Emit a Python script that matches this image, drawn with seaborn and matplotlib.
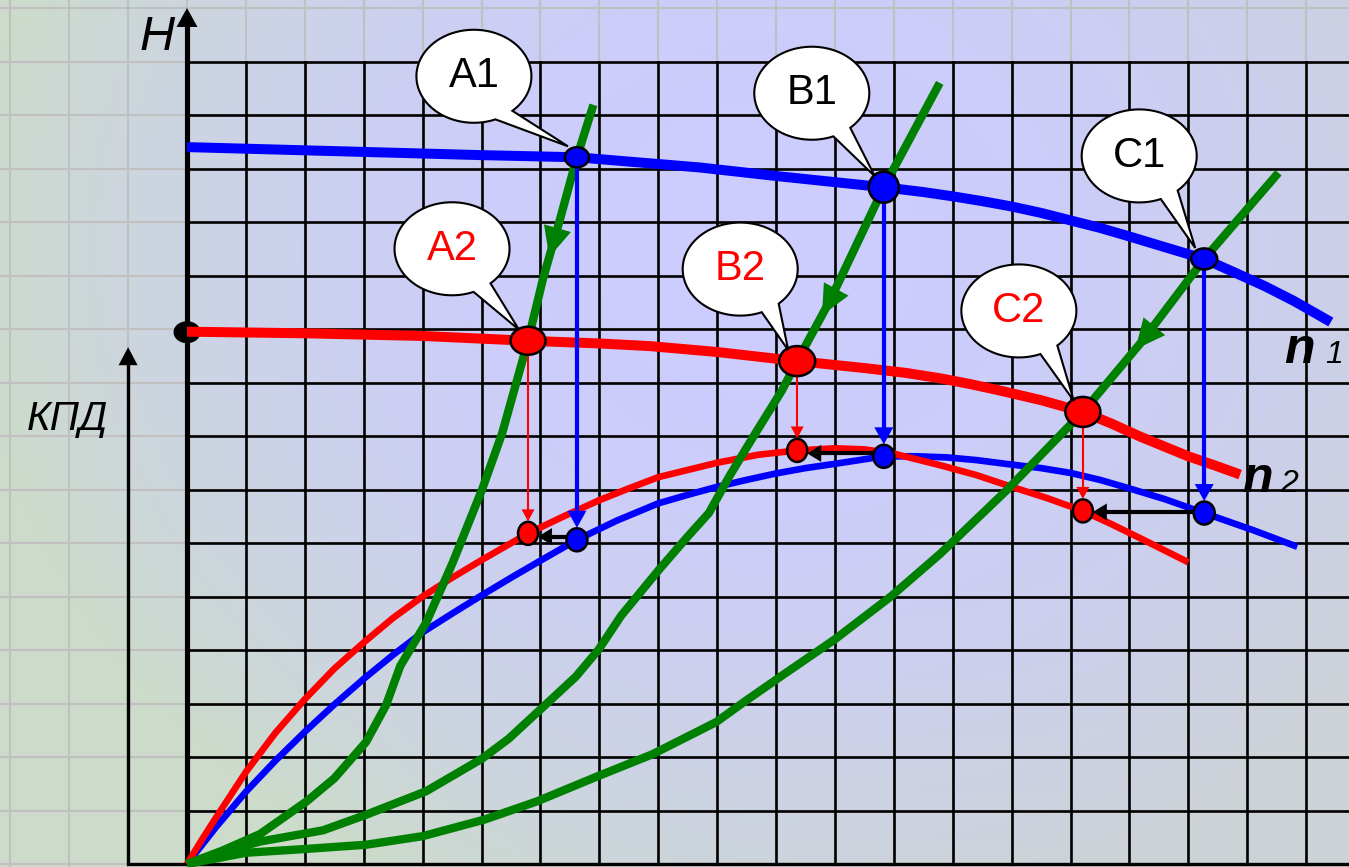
import numpy as np
import pandas as pd
import matplotlib
matplotlib.use('Agg')
import matplotlib.pyplot as plt
import seaborn as sns
from matplotlib.patches import Ellipse, Polygon

# one grid cell = one unit on both axes
# head curves H(Q) for speeds n1 (blue) and n2 (red)
h1_x = [0, 1, 2, 3, 4, 5, 6.62, 7.6, 8.7, 10, 11.83, 12.5, 13, 13.5, 14, 14.5, 15, 15.5, 16, 16.6,
        17.27, 17.8, 18.3, 18.8, 19.42]
h1_y = [13.40, 13.37, 13.34, 13.31, 13.28, 13.25, 13.21, 13.12, 13.02, 12.86, 12.65, 12.56, 12.48, 12.39,
        12.29, 12.17, 12.03, 11.89, 11.73, 11.53, 11.31, 11.05, 10.8, 10.52, 10.13]
h2_x = [0, 2, 4, 5.79, 7, 7.86, 9, 10.36, 11.5, 12.2, 12.78, 13.3, 13.8, 14.5, 15.21, 15.7, 16.18, 16.6,
        17.0, 17.45, 17.88]
h2_y = [9.95, 9.92, 9.87, 9.78, 9.73, 9.68, 9.57, 9.40, 9.27, 9.18, 9.08, 8.97, 8.85, 8.67, 8.45, 8.23,
        7.99, 7.8, 7.62, 7.45, 7.28]

# efficiency curves (KPD) for n1 (blue) and n2 (red)
eta1_x = [0, 0.5, 1, 1.5, 2, 2.5, 3, 3.5, 4, 4.5, 5, 5.5, 6, 6.62, 7.3, 8, 8.5, 9, 9.5, 10, 10.5, 11,
          11.83, 12.4, 12.9, 13.4, 13.9, 14.5, 15, 15.5, 16, 16.6, 17.27, 18.1, 18.85]
eta1_y = [0, 0.7, 1.35, 1.93, 2.47, 2.98, 3.46, 3.91, 4.33, 4.68, 5.02, 5.35, 5.67, 6.06, 6.42, 6.74, 6.9,
          7.05, 7.18, 7.30, 7.40, 7.48, 7.62, 7.62, 7.6, 7.55, 7.48, 7.4, 7.31, 7.18, 7.02, 6.82, 6.56,
          6.24, 5.93]
eta2_x = [0, 0.25, 0.5, 0.75, 1, 1.5, 2, 2.5, 3, 3.5, 4, 4.5, 5, 5.79, 6.4, 7, 7.5, 8, 9, 9.7, 10.36, 11,
          11.5, 12, 12.8, 13.4, 14, 14.6, 15.21, 15.7, 16.2, 16.6, 17.0]
eta2_y = [0, 0.45, 0.88, 1.3, 1.72, 2.45, 3.08, 3.65, 4.14, 4.6, 5.0, 5.35, 5.68, 6.18, 6.5, 6.8, 7.02, 7.23,
          7.5, 7.65, 7.73, 7.77, 7.75, 7.67, 7.45, 7.27, 7.05, 6.84, 6.6, 6.35, 6.08, 5.86, 5.64]

# system curves (green)
sys1_x = [0, 0.6, 1.24, 2.03, 2.5, 3.04, 3.38, 3.62, 4.06, 4.51, 5.01, 5.35, 5.79, 6.04, 6.33, 6.62, 6.9]
sys1_y = [0, 0.25, 0.56, 1.17, 1.6, 2.28, 2.97, 3.7, 4.51, 5.63, 7.0, 8.05, 9.78, 10.92, 12.04, 13.21, 14.19]
sys2_x = [0, 0.6, 1.24, 2.31, 3.04, 4.06, 5.01, 5.46, 6.08, 6.6, 6.99, 7.37, 8.02, 8.5, 8.86, 9.21, 9.61,
          10.1, 10.36, 10.92, 11.83, 12.78]
sys2_y = [0, 0.22, 0.42, 0.63, 0.92, 1.36, 1.97, 2.34, 2.97, 3.5, 4.01, 4.64, 5.51, 6.12, 6.56, 7.25, 7.98,
          8.85, 9.40, 10.54, 12.65, 14.6]
sys3_x = [0, 1, 2, 3.04, 4, 5.05, 5.94, 6.95, 7.9, 8.98, 9.46, 10.1, 11, 11.95, 12.79, 13.92, 15.21, 16.2,
          17.27, 18.53]
sys3_y = [0, 0.21, 0.28, 0.36, 0.52, 0.83, 1.17, 1.63, 2.05, 2.65, 3.03, 3.52, 4.2, 5.0, 5.8, 6.99, 8.45, 9.75,
          11.31, 12.92]
sys_arrow_x = [6.15, 10.78, 16.1]

# operating points
pts1_x = [6.62, 11.83, 17.27]
pts2_x = [5.79, 10.36, 15.21]
labels1 = ['A1', 'B1', 'C1']
labels2 = ['A2', 'B2', 'C2']

SX, SY = 58.9, 53.5  # pixels per grid cell

plt.rcParams['font.family'] = ['Liberation Sans', 'DejaVu Sans']
fig = plt.figure(figsize=(13.49, 8.67), dpi=100)
ax = fig.add_axes([0, 0, 1, 1])
X0, X1 = -187 / SX, (1349 - 187) / SX
Y0, Y1 = -3 / SY, 864 / SY

# background gradient: lavender centre, greenish left, greyish right/bottom
W, H = 1349, 867
xx, yy = np.meshgrid(np.arange(W), np.arange(H))
t = np.clip(((xx - 750) / 780) ** 2 + ((yy - 250) / 700) ** 2, 0, 1)
c_in = np.array([204, 204, 255]) / 255
green = np.array([205, 219, 203]) / 255
grey = np.array([204, 211, 214]) / 255
mix = np.clip((xx - 350) / 800, 0, 1)[..., None]
c_out = green + mix * (grey - green)
img = c_in + t[..., None] * (c_out - c_in)
ax.imshow(img, extent=(X0, X1, Y0, Y1), origin='upper', aspect='auto', zorder=0)

# grids
for gx in range(-3, 20):
    ax.plot([gx, gx], [Y0, Y1], color='#c0c0c0', lw=1.5, zorder=1)
for gy in range(0, 17):
    ax.plot([X0, X1], [gy, gy], color='#c0c0c0', lw=1.5, zorder=1)
for gx in range(0, 20):
    ax.plot([gx, gx], [0, 15], color='black', lw=1.9, zorder=2)
for gy in range(0, 16):
    ax.plot([0, X1], [gy, gy], color='black', lw=1.9, zorder=2)
ax.plot([-1, X1], [0, 0], color='black', lw=2.4, zorder=2)


def arrow(x0, y0, x1, y1, color, lw, hl, hw, z, shrink=0, shaft=True):
    p0 = np.array([x0 * SX, y0 * SY])
    p1 = np.array([x1 * SX, y1 * SY])
    d = (p1 - p0) / np.hypot(*(p1 - p0))
    tip = p1 - d * shrink
    base = tip - d * hl
    n = np.array([-d[1], d[0]])
    if shaft:
        end = base + d * 2
        ax.plot([p0[0] / SX, end[0] / SX], [p0[1] / SY, end[1] / SY], color=color, lw=lw,
                solid_capstyle='butt', zorder=z)
    head = np.array([tip, base + n * hw / 2, base - n * hw / 2])
    ax.add_patch(Polygon(head / [SX, SY], closed=True, fc=color, ec='none', zorder=z))


# axes arrows
arrow(0, 0, 0, 16.0, 'black', 3.7, 19, 21, 3)
arrow(-1, 0, -1, 9.66, 'black', 2.4, 18, 19, 3)
ax.add_patch(Ellipse((0, 9.94), 27 / SX, 22 / SY, fc='black', ec='none', zorder=4))

line_kw = dict(sort=False, estimator=None, ax=ax, solid_capstyle='butt', solid_joinstyle='round')
# efficiency curves
sns.lineplot(x=eta1_x, y=eta1_y, color='#0000ff', lw=4.8, zorder=4, **line_kw)
sns.lineplot(x=eta2_x, y=eta2_y, color='#ff0000', lw=4.8, zorder=4, **line_kw)
# head curves
sns.lineplot(x=h1_x, y=h1_y, color='#0000ff', lw=7.2, zorder=5, **line_kw)
sns.lineplot(x=h2_x, y=h2_y, color='#ff0000', lw=7.2, zorder=5, **line_kw)
# system curves
for sx, sy, ax_x in zip([sys1_x, sys2_x, sys3_x], [sys1_y, sys2_y, sys3_y], sys_arrow_x):
    sns.lineplot(x=sx, y=sy, color='#008000', lw=6, zorder=6, **line_kw)
    back = ax_x + 0.12
    arrow(back, np.interp(back, sx, sy), ax_x, np.interp(ax_x, sx, sy), '#008000', 0, 30, 28, 6.5,
          shaft=False)

p1_y = np.interp(pts1_x, h1_x, h1_y)
p2_y = np.interp(pts2_x, h2_x, h2_y)
e1_y = np.interp(pts1_x, eta1_x, eta1_y)
e2_y = np.interp(pts2_x, eta2_x, eta2_y)

for i in range(3):
    arrow(pts1_x[i], p1_y[i], pts1_x[i], e1_y[i], '#0000ff', 3, 17, 19, 7, shrink=12)
    arrow(pts2_x[i], p2_y[i], pts2_x[i], e2_y[i], '#ff0000', 1.5, 12, 13, 7, shrink=12)
    ym = (e1_y[i] + e2_y[i]) / 2
    arrow(pts1_x[i], ym, pts2_x[i], ym, 'black', 3, 14, 17, 7, shrink=10)

# dots
sizes1 = [(24, 20), (30, 31), (26, 21)]
sizes2 = [(35, 28), (36, 30), (35, 30)]
for i in range(3):
    ax.add_patch(Ellipse((pts1_x[i], p1_y[i]), sizes1[i][0] / SX, sizes1[i][1] / SY,
                         fc='#0000ff', ec='black', lw=1.8, zorder=8))
    ax.add_patch(Ellipse((pts2_x[i], p2_y[i]), sizes2[i][0] / SX, sizes2[i][1] / SY,
                         fc='#ff0000', ec='black', lw=1.8, zorder=8))
    ax.add_patch(Ellipse((pts1_x[i], e1_y[i]), 21 / SX, 23 / SY, fc='#0000ff', ec='black', lw=1.8, zorder=8))
    ax.add_patch(Ellipse((pts2_x[i], e2_y[i]), 20 / SX, 23 / SY, fc='#ff0000', ec='black', lw=1.8, zorder=8))

# speech-bubble callouts
off1 = [(-103, -81), (-72, -94), (-65, -103)]
off2 = [(-76, -92), (-57, -92), (-64, -101)]


def callout(x, y, off, text, color):
    cx, cy = x + off[0] / SX, y - off[1] / SY
    a, b = 57.5, 46.5
    ang = np.radians(np.linspace(68, 48 + 360, 200))
    px = cx + a * np.cos(ang) / SX
    py = cy - b * np.sin(ang) / SY
    tip = (x - 9 / SX, y + 11 / SY)
    verts = np.vstack([np.column_stack([px, py]), [tip]])
    ax.add_patch(Polygon(verts, closed=True, fc='white', ec='black', lw=1.5, zorder=9))
    ax.text(cx, cy, text, color=color, fontsize=30, ha='center', va='center', zorder=10)


for i in range(3):
    callout(pts1_x[i], p1_y[i], off1[i], labels1[i], 'black')
    callout(pts2_x[i], p2_y[i], off2[i], labels2[i], '#ff0000')

# labels
ax.text(-0.80, 15.21, 'H', fontsize=35, style='italic', ha='left', va='baseline', zorder=10)
ax.text(-2.72, 8.11, 'КПД', fontsize=29, style='italic', ha='left', va='baseline', zorder=10)
ax.text(18.62, 9.36, 'n', fontsize=36, style='italic', weight='bold', ha='left', va='baseline', zorder=10)
ax.text(19.33, 9.36, '1', fontsize=23, style='italic', ha='left', va='baseline', zorder=10)
ax.text(17.92, 6.95, 'n', fontsize=36, style='italic', weight='bold', ha='left', va='baseline', zorder=10)
ax.text(18.56, 6.95, '2', fontsize=23, style='italic', ha='left', va='baseline', zorder=10)

ax.set_xlim(X0, X1)
ax.set_ylim(Y0, Y1)
ax.set_axis_off()
fig.savefig('out.png', dpi=100)
